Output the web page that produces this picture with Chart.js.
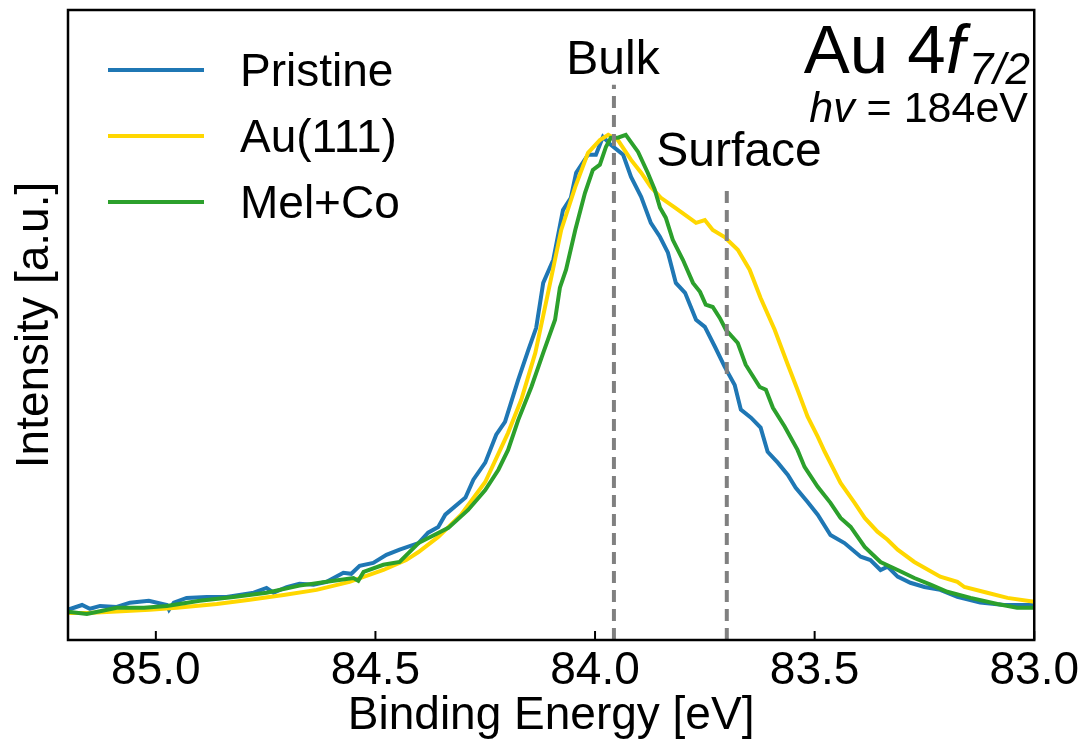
<!DOCTYPE html>
<html>
<head>
<meta charset="utf-8">
<script src="https://cdn.jsdelivr.net/npm/chart.js@4"></script>
<style>
  body { margin: 0; background: #fff; }
  canvas { display: block; }
</style>
</head>
<body>
<canvas id="xps" width="1083" height="746"></canvas>
<script>
// Au 4f7/2 spectra, intensity normalised to peak
const pristineE = [85.20, 85.168, 85.150, 85.127, 85.089, 85.059, 85.016, 84.975, 84.970, 84.959, 84.930, 84.884, 84.839, 84.777, 84.748, 84.732, 84.702, 84.673, 84.641, 84.611, 84.573, 84.555, 84.536, 84.505, 84.475, 84.445, 84.402, 84.380, 84.357, 84.341, 84.295, 84.277, 84.250, 84.225, 84.205, 84.175, 84.152, 84.134, 84.118, 84.095, 84.073, 84.055, 84.043, 84.016, 83.998, 83.982, 83.964, 83.936, 83.918, 83.895, 83.873, 83.852, 83.834, 83.816, 83.795, 83.770, 83.750, 83.727, 83.705, 83.682, 83.668, 83.645, 83.623, 83.607, 83.584, 83.561, 83.543, 83.516, 83.493, 83.464, 83.432, 83.395, 83.373, 83.350, 83.334, 83.311, 83.282, 83.250, 83.214, 83.175, 83.123, 83.068, 83.00];
const pristineI = [-0.004, 0.006, -0.002, 0.004, 0.002, 0.011, 0.015, 0.006, -0.004, 0.011, 0.021, 0.023, 0.023, 0.032, 0.042, 0.032, 0.044, 0.051, 0.049, 0.055, 0.074, 0.072, 0.089, 0.095, 0.112, 0.123, 0.137, 0.159, 0.171, 0.197, 0.233, 0.271, 0.307, 0.366, 0.393, 0.482, 0.545, 0.592, 0.687, 0.736, 0.841, 0.867, 0.920, 0.958, 0.958, 0.996, 0.979, 0.958, 0.911, 0.869, 0.814, 0.784, 0.751, 0.687, 0.666, 0.609, 0.594, 0.552, 0.510, 0.471, 0.419, 0.402, 0.381, 0.330, 0.307, 0.281, 0.254, 0.224, 0.197, 0.154, 0.137, 0.108, 0.101, 0.080, 0.087, 0.066, 0.053, 0.044, 0.038, 0.023, 0.011, 0.006, 0.006];

const au111E = [85.20, 85.157, 85.089, 85.014, 84.952, 84.861, 84.786, 84.709, 84.634, 84.559, 84.482, 84.430, 84.402, 84.357, 84.305, 84.250, 84.198, 84.168, 84.136, 84.107, 84.077, 84.045, 84.016, 83.989, 83.970, 83.948, 83.918, 83.895, 83.873, 83.850, 83.818, 83.795, 83.770, 83.750, 83.732, 83.705, 83.675, 83.648, 83.623, 83.591, 83.561, 83.539, 83.516, 83.493, 83.477, 83.441, 83.409, 83.386, 83.357, 83.334, 83.311, 83.273, 83.214, 83.175, 83.159, 83.107, 83.061, 83.00];
const au111I = [-0.011, -0.011, -0.008, -0.004, 0.000, 0.008, 0.017, 0.027, 0.038, 0.055, 0.080, 0.101, 0.118, 0.150, 0.197, 0.266, 0.370, 0.440, 0.539, 0.666, 0.799, 0.890, 0.962, 0.989, 1.000, 0.989, 0.947, 0.920, 0.890, 0.867, 0.846, 0.831, 0.814, 0.820, 0.799, 0.784, 0.757, 0.715, 0.655, 0.588, 0.514, 0.461, 0.404, 0.362, 0.330, 0.264, 0.222, 0.190, 0.161, 0.144, 0.123, 0.097, 0.066, 0.055, 0.044, 0.032, 0.021, 0.013];

const melCoE = [85.20, 85.157, 85.089, 85.027, 84.975, 84.900, 84.823, 84.748, 84.673, 84.611, 84.550, 84.539, 84.527, 84.482, 84.445, 84.402, 84.334, 84.289, 84.250, 84.220, 84.198, 84.175, 84.145, 84.118, 84.091, 84.080, 84.066, 84.045, 84.023, 84.005, 83.989, 83.975, 83.964, 83.948, 83.930, 83.902, 83.880, 83.864, 83.852, 83.839, 83.823, 83.800, 83.777, 83.761, 83.748, 83.732, 83.716, 83.702, 83.675, 83.657, 83.625, 83.611, 83.595, 83.568, 83.539, 83.523, 83.493, 83.464, 83.441, 83.418, 83.386, 83.350, 83.311, 83.273, 83.236, 83.198, 83.145, 83.084, 83.039, 83.00];
const melCoI = [-0.008, -0.013, 0.000, 0.000, 0.004, 0.015, 0.023, 0.032, 0.047, 0.055, 0.063, 0.057, 0.076, 0.091, 0.097, 0.137, 0.169, 0.207, 0.249, 0.292, 0.334, 0.397, 0.467, 0.539, 0.609, 0.677, 0.715, 0.799, 0.877, 0.926, 0.937, 0.975, 0.994, 0.994, 1.000, 0.964, 0.920, 0.884, 0.846, 0.825, 0.778, 0.736, 0.687, 0.668, 0.641, 0.636, 0.613, 0.588, 0.560, 0.514, 0.467, 0.461, 0.423, 0.383, 0.334, 0.298, 0.256, 0.222, 0.190, 0.171, 0.129, 0.097, 0.080, 0.063, 0.049, 0.034, 0.021, 0.008, 0.000, 0.000];

const seriesNames = ['Pristine', 'Au(111)', 'Mel+Co'];
const seriesColors = ['#1f77b4', '#ffd700', '#2ca02c'];

// reference energies of the components (dashed markers)
const markerNames = ['Bulk', 'Surface'];
const markerE = [83.957, 83.70];
const markerTop = [1.106, 0.894];

const tickValues = [85.0, 84.5, 84.0, 83.5, 83.0];
const xMin = 83.0, xMax = 85.2;
const yMin = -0.068, yMax = 1.264;

const FONT = 'Liberation Sans, Arial, sans-serif';

function pts(es, is) { return es.map((e, i) => ({ x: e, y: is[i] })); }

const curves = [[pristineE, pristineI], [au111E, au111I], [melCoE, melCoI]];
const datasets = [];
curves.forEach((c, i) => {
  datasets.push({
    label: seriesNames[i],
    data: pts(c[0], c[1]),
    borderColor: seriesColors[i],
    borderWidth: 4,
    pointRadius: 0,
    tension: 0,
    order: 3 - i
  });
});
markerE.forEach((e, i) => {
  datasets.push({
    label: markerNames[i],
    data: [{ x: e, y: yMin }, { x: e, y: markerTop[i] }],
    borderColor: '#808080',
    borderWidth: 4,
    borderDash: [12, 7],
    pointRadius: 0,
    order: 0
  });
});

const decor = {
  id: 'decor',
  afterDatasetsDraw(chart) {
    const { ctx, chartArea: a, scales: { x, y } } = chart;
    ctx.save();
    // frame
    ctx.strokeStyle = '#000';
    ctx.lineWidth = 2.5;
    ctx.strokeRect(a.left, a.top, a.right - a.left, a.bottom - a.top);
    // inward ticks on bottom axis
    ctx.lineWidth = 2;
    tickValues.forEach(v => {
      const px = x.getPixelForValue(v);
      ctx.beginPath();
      ctx.moveTo(px, a.bottom);
      ctx.lineTo(px, a.bottom - 9);
      ctx.stroke();
    });
    // legend
    ctx.font = '46px ' + FONT;
    ctx.textBaseline = 'middle';
    ctx.textAlign = 'left';
    seriesNames.forEach((n, i) => {
      const ly = 70 + i * 66;
      ctx.strokeStyle = seriesColors[i];
      ctx.lineWidth = 4;
      ctx.beginPath();
      ctx.moveTo(108, ly);
      ctx.lineTo(204, ly);
      ctx.stroke();
      ctx.fillStyle = '#000';
      ctx.fillText(n, 240, ly + 3);
    });
    // marker labels
    ctx.font = '48px ' + FONT;
    ctx.textAlign = 'center';
    ctx.fillText('Bulk', 613, 61);
    ctx.fillText('Surface', 739, 153);
    // title block, right aligned
    const right = 1030;
    ctx.textBaseline = 'alphabetic';
    ctx.textAlign = 'left';
    ctx.font = '69px ' + FONT;
    const wAu = ctx.measureText('Au 4').width;
    ctx.font = 'italic 69px ' + FONT;
    const wF = ctx.measureText('f').width;
    ctx.font = 'italic 44px ' + FONT;
    const wSub = ctx.measureText('7/2').width;
    let sx = right - wAu - wF - wSub - 4;
    ctx.font = '69px ' + FONT;
    ctx.fillText('Au 4', sx, 73);
    ctx.font = 'italic 69px ' + FONT;
    ctx.fillText('f', sx + wAu, 73);
    ctx.font = 'italic 44px ' + FONT;
    ctx.fillText('7/2', sx + wAu + wF + 4, 84);
    ctx.font = 'italic 43px ' + FONT;
    const wHv = ctx.measureText('hv').width;
    ctx.font = '43px ' + FONT;
    const wRest = ctx.measureText(' = 184eV').width;
    sx = right - 2 - wHv - wRest;
    ctx.font = 'italic 43px ' + FONT;
    ctx.fillText('hv', sx, 122);
    ctx.font = '43px ' + FONT;
    ctx.fillText(' = 184eV', sx + wHv, 122);
    ctx.restore();
  }
};

new Chart(document.getElementById('xps').getContext('2d'), {
  type: 'line',
  data: { datasets: datasets },
  options: {
    responsive: false,
    animation: false,
    devicePixelRatio: 1,
    layout: { padding: { top: 10, right: 48, left: 0, bottom: 0 } },
    plugins: { legend: { display: false }, tooltip: { enabled: false } },
    scales: {
      x: {
        type: 'linear',
        reverse: true,
        min: xMin,
        max: xMax,
        afterBuildTicks: s => { s.ticks = tickValues.map(v => ({ value: v })); },
        afterFit: s => { s.height = 106; },
        grid: { display: false, drawTicks: false },
        border: { display: false },
        ticks: {
          padding: 4,
          color: '#000',
          font: { family: FONT, size: 46 },
          maxRotation: 0,
          callback: v => Number(v).toFixed(1)
        },
        title: {
          display: true,
          text: 'Binding Energy [eV]',
          color: '#000',
          font: { family: FONT, size: 46 },
          padding: { top: 0, bottom: 2 }
        }
      },
      y: {
        min: yMin,
        max: yMax,
        afterFit: s => { s.width = 68; },
        grid: { display: false, drawTicks: false },
        border: { display: false },
        ticks: { display: false },
        title: {
          display: true,
          text: 'Intensity [a.u.]',
          color: '#000',
          font: { family: FONT, size: 46 },
          padding: { top: 8, bottom: 0 }
        }
      }
    }
  },
  plugins: [decor]
});
</script>
</body>
</html>
